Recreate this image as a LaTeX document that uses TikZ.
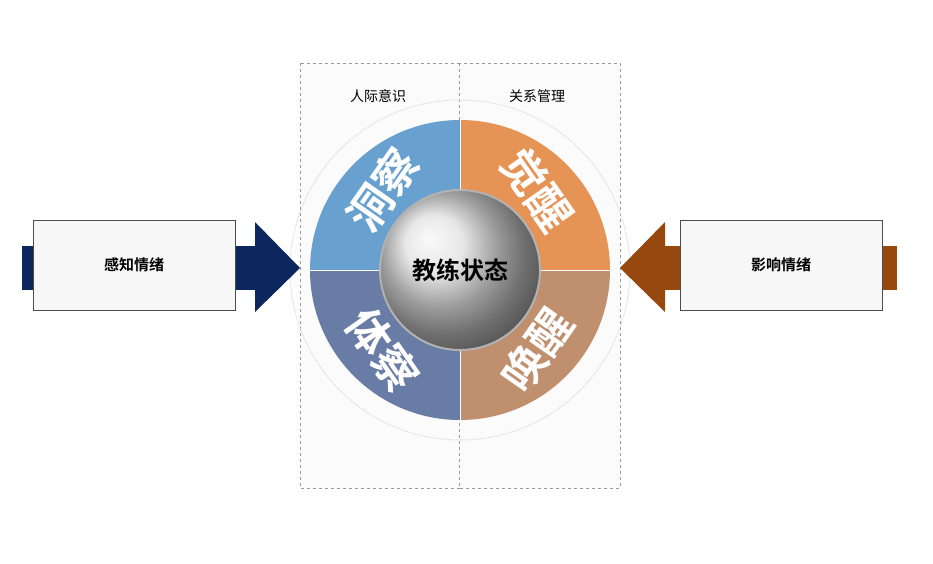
\documentclass[tikz,border=0pt]{standalone}
\usepackage{fontspec}
\newfontfamily\cjk{Noto Sans CJK SC}
\newfontfamily\cjkb{Noto Sans CJK SC Bold}
\usetikzlibrary{positioning}
\definecolor{navy}{RGB}{12,38,94}
\definecolor{rust}{RGB}{150,72,14}
\definecolor{qblue}{RGB}{104,160,208}
\definecolor{qorange}{RGB}{230,148,86}
\definecolor{qslate}{RGB}{104,124,166}
\definecolor{qtan}{RGB}{192,144,110}
\tikzset{
    panel/.style={draw=gray!80, dashed, fill=gray!3},
    card/.style={draw=black!70, fill=black!3, minimum width=202pt, minimum height=90pt,
        font=\cjkb\fontsize{15}{15}\selectfont},
    seg/.style={text=white, font=\cjkb\fontsize{44}{44}\selectfont},
    head/.style={font=\cjk\fontsize{14}{14}\selectfont},
}
\begin{document}
\begin{tikzpicture}[x=1pt,y=-1pt]
	\useasboundingbox (0,0) rectangle (933,564);
	\draw[panel] (300,63) rectangle (459,488);
	\draw[panel] (459,63) rectangle (620,488);
	\node[head] (aware) at (378,96) {人际意识};
	\node[head] (manage) at (537,96) {关系管理};
	\coordinate (c) at (460,270);
	\draw[gray!30, densely dotted, line width=1pt] (c) circle (170);
\begin{scope}[shift={(460,270)}, yscale=-1]
	\fill[qblue] (0,0) -- (180:150) arc[start angle=180, end angle=90, radius=150] -- cycle;
	\fill[qorange] (0,0) -- (90:150) arc[start angle=90, end angle=0, radius=150] -- cycle;
	\fill[qtan] (0,0) -- (0:150) arc[start angle=0, end angle=-90, radius=150] -- cycle;
	\fill[qslate] (0,0) -- (-90:150) arc[start angle=-90, end angle=-180, radius=150] -- cycle;
	\draw[white, line width=1pt] (180:150) -- (0:150) (90:150) -- (-90:150);
\end{scope}
	\node[seg, rotate=55] (see) at (383,190) {洞察};
	\node[seg, rotate=-55] (wake) at (537,190) {觉醒};
	\node[seg, rotate=-55] (feel) at (383,350) {体察};
	\node[seg, rotate=55] (call) at (537,350) {唤醒};
	\shade[ball color=gray!25] (c) circle (80);
	\draw[gray!60, line width=2pt] (c) circle (80);
	\node[font=\cjkb\fontsize{24}{24}\selectfont] (core) at (c) {教练状态};
	% left arrow
	\fill[navy] (22,246) rectangle (258,290);
	\fill[navy] (255,222) -- (300,268) -- (255,312) -- cycle;
	\node[card] (sense) at (134,265) {感知情绪};
	% right arrow
	\fill[rust] (665,246) rectangle (897,290);
	\fill[rust] (665,222) -- (620,268) -- (665,312) -- cycle;
	\node[card] (influence) at (781,265) {影响情绪};
\end{tikzpicture}
\end{document}
